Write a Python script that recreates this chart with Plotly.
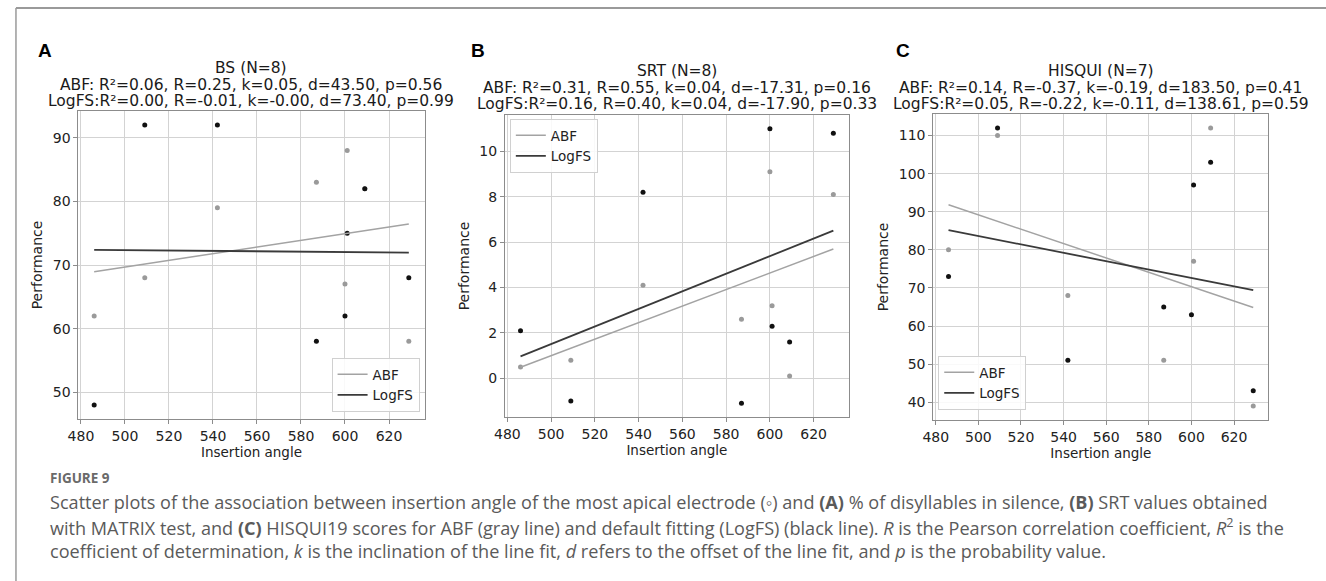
import numpy as np
import plotly.graph_objects as go

# ---------------- data ----------------
insertion_angle = [486, 509, 542, 587, 600, 601, 609, 629]

bs_abf = [62, 68, 79, 83, 67, 88, 82, 58]
bs_logfs = [48, 92, 92, 58, 62, 75, 82, 68]

srt_abf = [0.5, 0.8, 4.1, 2.6, 9.1, 3.2, 0.1, 8.1]
srt_logfs = [2.1, -1.0, 8.2, -1.1, 11.0, 2.3, 1.6, 10.8]

hisqui_abf = [80, 110, 68, 51, None, 77, 112, 39]
hisqui_logfs = [73, 112, 51, 65, 63, 97, 103, 43]

panel_letters = ["A", "B", "C"]
panel_titles = ["BS (N=8)", "SRT (N=8)", "HISQUI (N=7)"]
abf_stats = [
    "ABF: R²=0.06, R=0.25, k=0.05, d=43.50, p=0.56",
    "ABF: R²=0.31, R=0.55, k=0.04, d=-17.31, p=0.16",
    "ABF: R²=0.14, R=-0.37, k=-0.19, d=183.50, p=0.41",
]
logfs_stats = [
    "LogFS:R²=0.00, R=-0.01, k=-0.00, d=73.40, p=0.99",
    "LogFS:R²=0.16, R=0.40, k=0.04, d=-17.90, p=0.33",
    "LogFS:R²=0.05, R=-0.22, k=-0.11, d=138.61, p=0.59",
]
y_dticks = [10, 2, 10]
series_names = ["ABF", "LogFS"]

caption_head = "FIGURE 9"
caption_lines = [
    "Scatter plots of the association between insertion angle of the most apical electrode (◦) and <b>(A)</b> % of disyllables in silence, <b>(B)</b> SRT values obtained",
    "with MATRIX test, and <b>(C)</b> HISQUI19 scores for ABF (gray line) and default fitting (LogFS) (black line). <i>R</i> is the Pearson correlation coefficient, <i>R</i><sup>2</sup> is the",
    "coefficient of determination, <i>k</i> is the inclination of the line fit, <i>d</i> refers to the offset of the line fit, and <i>p</i> is the probability value.",
]

# ---------------- layout geometry (pixels) ----------------
W, H = 1326, 581
panels_px = [  # left, right, top, bottom
    (68, 417, 111, 419),
    (498, 845, 115, 417),
    (930, 1268, 114, 420),
]
title_y_px = [(68, 85, 101.5), (71, 87.7, 104.3), (71, 87.7, 104.3)]
letter_x_px = [25, 462, 890]
legend_pos = [
    dict(x=412 / W, y=1 - 412 / H, xanchor="right", yanchor="bottom"),
    dict(x=503 / W, y=1 - 119 / H, xanchor="left", yanchor="top"),
    dict(x=935 / W, y=1 - 410 / H, xanchor="left", yanchor="bottom"),
]

GREY_PT = "#9a9a9a"
BLACK_PT = "#111111"
ABF_LINE = "#a3a3a3"
LOGFS_LINE = "#3a3a3a"
FONT = "DejaVu Sans"

datasets = [(bs_abf, bs_logfs), (srt_abf, srt_logfs), (hisqui_abf, hisqui_logfs)]

fig = go.Figure()
annotations = []
layout_axes = {}


def fit_line(xs, ys):
    pts = [(a, b) for a, b in zip(xs, ys) if b is not None]
    xa = np.array([p[0] for p in pts], float)
    ya = np.array([p[1] for p in pts], float)
    k, d = np.polyfit(xa, ya, 1)
    xl = np.array([xa.min(), xa.max()])
    return xl, k * xl + d


for i, (abf, logfs) in enumerate(datasets):
    n = "" if i == 0 else str(i + 1)
    xa_name, ya_name = "x" + n, "y" + n
    leg = "legend" + n
    l, r, t, b = panels_px[i]

    xl, yl_abf = fit_line(insertion_angle, abf)
    xl2, yl_log = fit_line(insertion_angle, logfs)

    fig.add_trace(go.Scatter(x=insertion_angle, y=abf, mode="markers",
                             marker=dict(color=GREY_PT, size=5), showlegend=False,
                             xaxis=xa_name, yaxis=ya_name, hoverinfo="skip"))
    fig.add_trace(go.Scatter(x=insertion_angle, y=logfs, mode="markers",
                             marker=dict(color=BLACK_PT, size=5), showlegend=False,
                             xaxis=xa_name, yaxis=ya_name, hoverinfo="skip"))
    fig.add_trace(go.Scatter(x=xl, y=yl_abf, mode="lines", name=series_names[0],
                             line=dict(color=ABF_LINE, width=1.5), legend=leg,
                             xaxis=xa_name, yaxis=ya_name))
    fig.add_trace(go.Scatter(x=xl2, y=yl_log, mode="lines", name=series_names[1],
                             line=dict(color=LOGFS_LINE, width=1.8), legend=leg,
                             xaxis=xa_name, yaxis=ya_name))

    xmin, xmax = min(insertion_angle), max(insertion_angle)
    xpad = 0.05 * (xmax - xmin)
    ally = [v for v in abf + logfs if v is not None] + list(yl_abf) + list(yl_log)
    ymin, ymax = min(ally), max(ally)
    ypad = 0.05 * (ymax - ymin)

    axis_common = dict(showgrid=True, gridcolor="#d3d3d3", gridwidth=1,
                       showline=True, linecolor="#8c8c8c", linewidth=1, mirror=True,
                       ticks="outside", ticklen=4, tickcolor="#8c8c8c",
                       tickfont=dict(family=FONT, size=14, color="#222"),
                       zeroline=False)
    layout_axes["xaxis" + n] = dict(
        axis_common, domain=[l / W, r / W], anchor=ya_name,
        range=[xmin - xpad, xmax + xpad], tick0=480, dtick=20,
        title=dict(text="Insertion angle", font=dict(family=FONT, size=13.5, color="#222"), standoff=4),
    )
    layout_axes["yaxis" + n] = dict(
        axis_common, domain=[1 - b / H, 1 - t / H], anchor=xa_name,
        range=[ymin - ypad, ymax + ypad], tick0=0, dtick=y_dticks[i],
        title=dict(text="Performance", font=dict(family=FONT, size=14, color="#222"), standoff=6),
    )
    layout_axes[leg] = dict(
        legend_pos[i], bgcolor="rgba(255,255,255,0.85)", bordercolor="#d0d0d0", borderwidth=1,
        font=dict(family=FONT, size=13.5, color="#222"), itemwidth=30, tracegroupgap=0,
    )

    cx = (l + r) / 2 / W
    for txt, ypx in zip([panel_titles[i], abf_stats[i], logfs_stats[i]], title_y_px[i]):
        annotations.append(dict(text=txt, x=cx, y=1 - ypx / H, xref="paper", yref="paper",
                                xanchor="center", yanchor="middle", showarrow=False,
                                font=dict(family=FONT, size=15.5, color="#1a1a1a")))
    annotations.append(dict(text="<b>%s</b>" % panel_letters[i], x=letter_x_px[i] / W, y=1 - 50 / H,
                            xref="paper", yref="paper", xanchor="left", yanchor="middle",
                            showarrow=False,
                            font=dict(family="Liberation Sans", size=19, color="#000")))

# caption
annotations.append(dict(text="<b>%s</b>" % caption_head, x=37 / W, y=1 - 478 / H, xref="paper", yref="paper",
                        xanchor="left", yanchor="middle", showarrow=False,
                        font=dict(family="Open Sans", size=13.5, color="#6a6a6a")))
for j, line in enumerate(caption_lines):
    annotations.append(dict(text=line, x=37 / W, y=1 - (502 + 24.5 * j) / H, xref="paper", yref="paper",
                            xanchor="left", yanchor="middle", showarrow=False,
                            font=dict(family="Open Sans", size=18.1, color="#5a5a5a")))

shapes = [
    dict(type="line", xref="paper", yref="paper", x0=5 / W, x1=1, y0=1 - 8 / H, y1=1 - 8 / H,
         line=dict(color="#9a9a9a", width=2)),
    dict(type="line", xref="paper", yref="paper", x0=5 / W, x1=5 / W, y0=0, y1=1 - 8 / H,
         line=dict(color="#9a9a9a", width=1.5)),
]

fig.update_layout(
    width=W, height=H, margin=dict(l=0, r=0, t=0, b=0),
    paper_bgcolor="white", plot_bgcolor="white",
    annotations=annotations, shapes=shapes, **layout_axes,
)

fig.write_html("out.html")
